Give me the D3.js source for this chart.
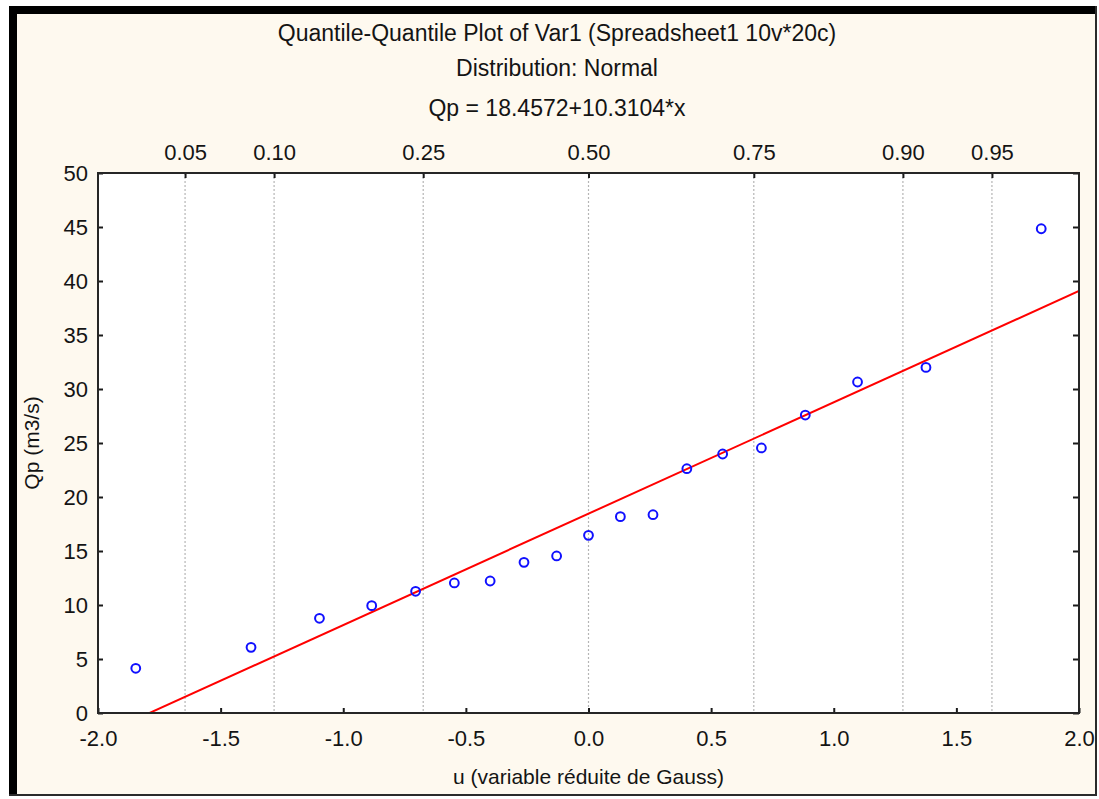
<!DOCTYPE html>
<html>
<head>
<meta charset="utf-8">
<script src="https://cdn.jsdelivr.net/npm/d3@7"></script>
<style>
  body { margin: 0; background: #fff; }
  svg text { font-family: "Liberation Sans", Arial, sans-serif; fill: #141414; }
</style>
</head>
<body>
<div id="chart"></div>
<script>
const uValues = [-1.846, -1.376, -1.097, -0.884, -0.705, -0.547, -0.401, -0.263, -0.130, 0.0,
  0.130, 0.263, 0.401, 0.547, 0.705, 0.884, 1.097, 1.376, 1.846];
const qpValues = [4.14, 6.08, 8.77, 9.94, 11.27, 12.04, 12.22, 13.95, 14.54, 16.45,
  18.18, 18.36, 22.62, 23.98, 24.54, 27.59, 30.65, 32.0, 44.84];

const fitIntercept = 18.4572;
const fitSlope = 10.3104;

const probLabels = ["0.05", "0.10", "0.25", "0.50", "0.75", "0.90", "0.95"];
const probPositions = [-1.645, -1.282, -0.674, 0, 0.674, 1.282, 1.645];

const xTicks = [-2.0, -1.5, -1.0, -0.5, 0.0, 0.5, 1.0, 1.5, 2.0];
const yTicks = [0, 5, 10, 15, 20, 25, 30, 35, 40, 45, 50];

const titleLines = [
  "Quantile-Quantile Plot of Var1 (Spreadsheet1 10v*20c)",
  "Distribution: Normal",
  "Qp = 18.4572+10.3104*x"
];

const W = 1099, H = 799;
const plot = { left: 98, top: 173, right: 1079, bottom: 713 };

const svg = d3.select("#chart").append("svg")
  .attr("width", W)
  .attr("height", H);

// window frame: cream panel, black top/left edge, thin dark right/bottom edge
svg.append("rect").attr("x", 0).attr("y", 0).attr("width", W).attr("height", H).attr("fill", "#fff");
svg.append("rect").attr("x", 9).attr("y", 6).attr("width", 1088).attr("height", 790).attr("fill", "#fef9ef");
svg.append("rect").attr("x", 9).attr("y", 6).attr("width", 1088).attr("height", 8).attr("fill", "#000");
svg.append("rect").attr("x", 9).attr("y", 6).attr("width", 8).attr("height", 790).attr("fill", "#000");
svg.append("rect").attr("x", 1095).attr("y", 6).attr("width", 2).attr("height", 790).attr("fill", "#2b2b2b");
svg.append("rect").attr("x", 9).attr("y", 794).attr("width", 1088).attr("height", 2).attr("fill", "#2b2b2b");

const x = d3.scaleLinear().domain([-2, 2]).range([plot.left, plot.right]);
const y = d3.scaleLinear().domain([0, 50]).range([plot.bottom, plot.top]);

svg.append("rect")
  .attr("x", plot.left).attr("y", plot.top)
  .attr("width", plot.right - plot.left).attr("height", plot.bottom - plot.top)
  .attr("fill", "#fff");

// titles
titleLines.forEach((t, i) => {
  svg.append("text")
    .attr("x", 557)
    .attr("y", [41, 76, 116][i])
    .attr("text-anchor", "middle")
    .style("font-size", "23px")
    .text(t);
});

// dotted grid at probability positions
svg.append("g").selectAll("line")
  .data(probPositions)
  .join("line")
  .attr("x1", d => x(d)).attr("x2", d => x(d))
  .attr("y1", plot.top).attr("y2", plot.bottom)
  .attr("stroke", "#b5b5b5")
  .attr("stroke-width", 1.2)
  .attr("stroke-dasharray", "2,2");

svg.append("clipPath").attr("id", "plot-clip")
  .append("rect")
  .attr("x", plot.left).attr("y", plot.top)
  .attr("width", plot.right - plot.left).attr("height", plot.bottom - plot.top);

// fitted line
const fitLine = d3.line().x(d => x(d)).y(d => y(fitIntercept + fitSlope * d));
svg.append("path")
  .datum([-2, 2])
  .attr("clip-path", "url(#plot-clip)")
  .attr("d", fitLine)
  .attr("fill", "none")
  .attr("stroke", "#ff0000")
  .attr("stroke-width", 2);

// observed points
svg.append("g").selectAll("circle")
  .data(uValues.map((u, i) => ({ u, q: qpValues[i] })))
  .join("circle")
  .attr("cx", d => x(d.u))
  .attr("cy", d => y(d.q))
  .attr("r", 4.4)
  .attr("fill", "none")
  .attr("stroke", "#1010ff")
  .attr("stroke-width", 2);

const fmt = d => d3.format(".1f")(d).replace("\u2212", "-");

// axes, ticks pointing inward
function styleAxis(g) {
  g.select(".domain").remove();
  g.selectAll(".tick line").attr("stroke", "#1a1a1a").attr("stroke-width", 2);
  g.selectAll(".tick text").style("font-size", "22px").attr("fill", "#141414");
}

svg.append("g")
  .attr("transform", `translate(0,${plot.bottom})`)
  .call(d3.axisBottom(x).tickValues(xTicks).tickFormat(fmt).tickSizeInner(-5).tickSizeOuter(0).tickPadding(17))
  .call(styleAxis);

svg.append("g")
  .attr("transform", `translate(${plot.left},0)`)
  .call(d3.axisLeft(y).tickValues(yTicks).tickSizeInner(-5).tickSizeOuter(0).tickPadding(10))
  .call(styleAxis);

svg.append("g")
  .attr("transform", `translate(${plot.right},0)`)
  .call(d3.axisRight(y).tickValues(yTicks).tickFormat("").tickSizeInner(-6).tickSizeOuter(0))
  .call(styleAxis);

svg.append("g")
  .attr("transform", `translate(0,${plot.top})`)
  .call(d3.axisTop(x).tickValues(probPositions).tickFormat((d, i) => probLabels[i]).tickSizeInner(-5).tickSizeOuter(0).tickPadding(13))
  .call(styleAxis);

// plot frame
svg.append("rect")
  .attr("x", plot.left).attr("y", plot.top)
  .attr("width", plot.right - plot.left).attr("height", plot.bottom - plot.top)
  .attr("fill", "none")
  .attr("stroke", "#262626")
  .attr("stroke-width", 2);

// axis titles
svg.append("text")
  .attr("x", x(0))
  .attr("y", 784)
  .attr("text-anchor", "middle")
  .style("font-size", "21px")
  .text("u (variable réduite de Gauss)");

svg.append("text")
  .attr("transform", `translate(39,${(plot.top + plot.bottom) / 2}) rotate(-90)`)
  .attr("text-anchor", "middle")
  .style("font-size", "21px")
  .text("Qp (m3/s)");
</script>
</body>
</html>
